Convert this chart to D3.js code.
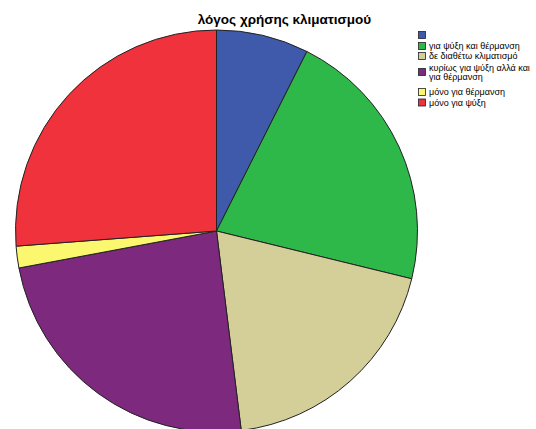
<!DOCTYPE html>
<html>
<head>
<meta charset="utf-8">
<script src="https://cdn.jsdelivr.net/npm/d3@7"></script>
<style>
  html, body { margin: 0; padding: 0; background: #fff; }
  svg { display: block; }
</style>
</head>
<body>
<svg id="chart" width="536" height="429"></svg>
<script>
// Reasons for using air conditioning (counts per answer)
const categories = [
  "",
  "για ψύξη και θέρμανση",
  "δε διαθέτω κλιματισμό",
  "κυρίως για ψύξη αλλά και\nγια θέρμανση",
  "μόνο για θέρμανση",
  "μόνο για ψύξη"
];
const counts = [17, 49, 44, 55, 4, 60];
const colors = ["#3f5aab", "#2fb84a", "#d4cf98", "#7d2a7e", "#fbf86f", "#ef323b"];
const title = "λόγος χρήσης κλιματισμού";

const svg = d3.select("#chart");
const cx = 216.5, cy = 231, r = 201;

const pie = d3.pie().sort(null).value(d => d)(counts);
const arc = d3.arc().innerRadius(0).outerRadius(r);

svg.append("g")
  .attr("transform", `translate(${cx},${cy})`)
  .selectAll("path")
  .data(pie)
  .join("path")
  .attr("d", arc)
  .attr("fill", (d, i) => colors[i])
  .attr("stroke", "#222")
  .attr("stroke-width", 1)
  .attr("stroke-linejoin", "round");

svg.append("text")
  .attr("x", 284.5)
  .attr("y", 24)
  .attr("text-anchor", "middle")
  .attr("font-family", "Liberation Sans, Arial, sans-serif")
  .attr("font-weight", "bold")
  .attr("font-size", 13.5)
  .attr("fill", "#000")
  .text(title);

// Legend
const rowCenters = [35, 46, 56, 72, 92, 102.5];
const legend = svg.append("g")
  .attr("font-family", "Liberation Sans, Arial, sans-serif")
  .attr("font-size", 9)
  .attr("fill", "#000");

categories.forEach((label, i) => {
  const yc = rowCenters[i];
  legend.append("rect")
    .attr("x", 418.5).attr("y", yc - 3.5)
    .attr("width", 7).attr("height", 7)
    .attr("fill", colors[i])
    .attr("stroke", "#222").attr("stroke-width", 0.8);
  const lines = label.split("\n");
  const t = legend.append("text")
    .attr("x", 429)
    .attr("y", yc + 3 - (lines.length - 1) * 4.5);
  lines.forEach((ln, j) => {
    t.append("tspan").attr("x", 429).attr("dy", j === 0 ? 0 : 9).text(ln);
  });
});
</script>
</body>
</html>
